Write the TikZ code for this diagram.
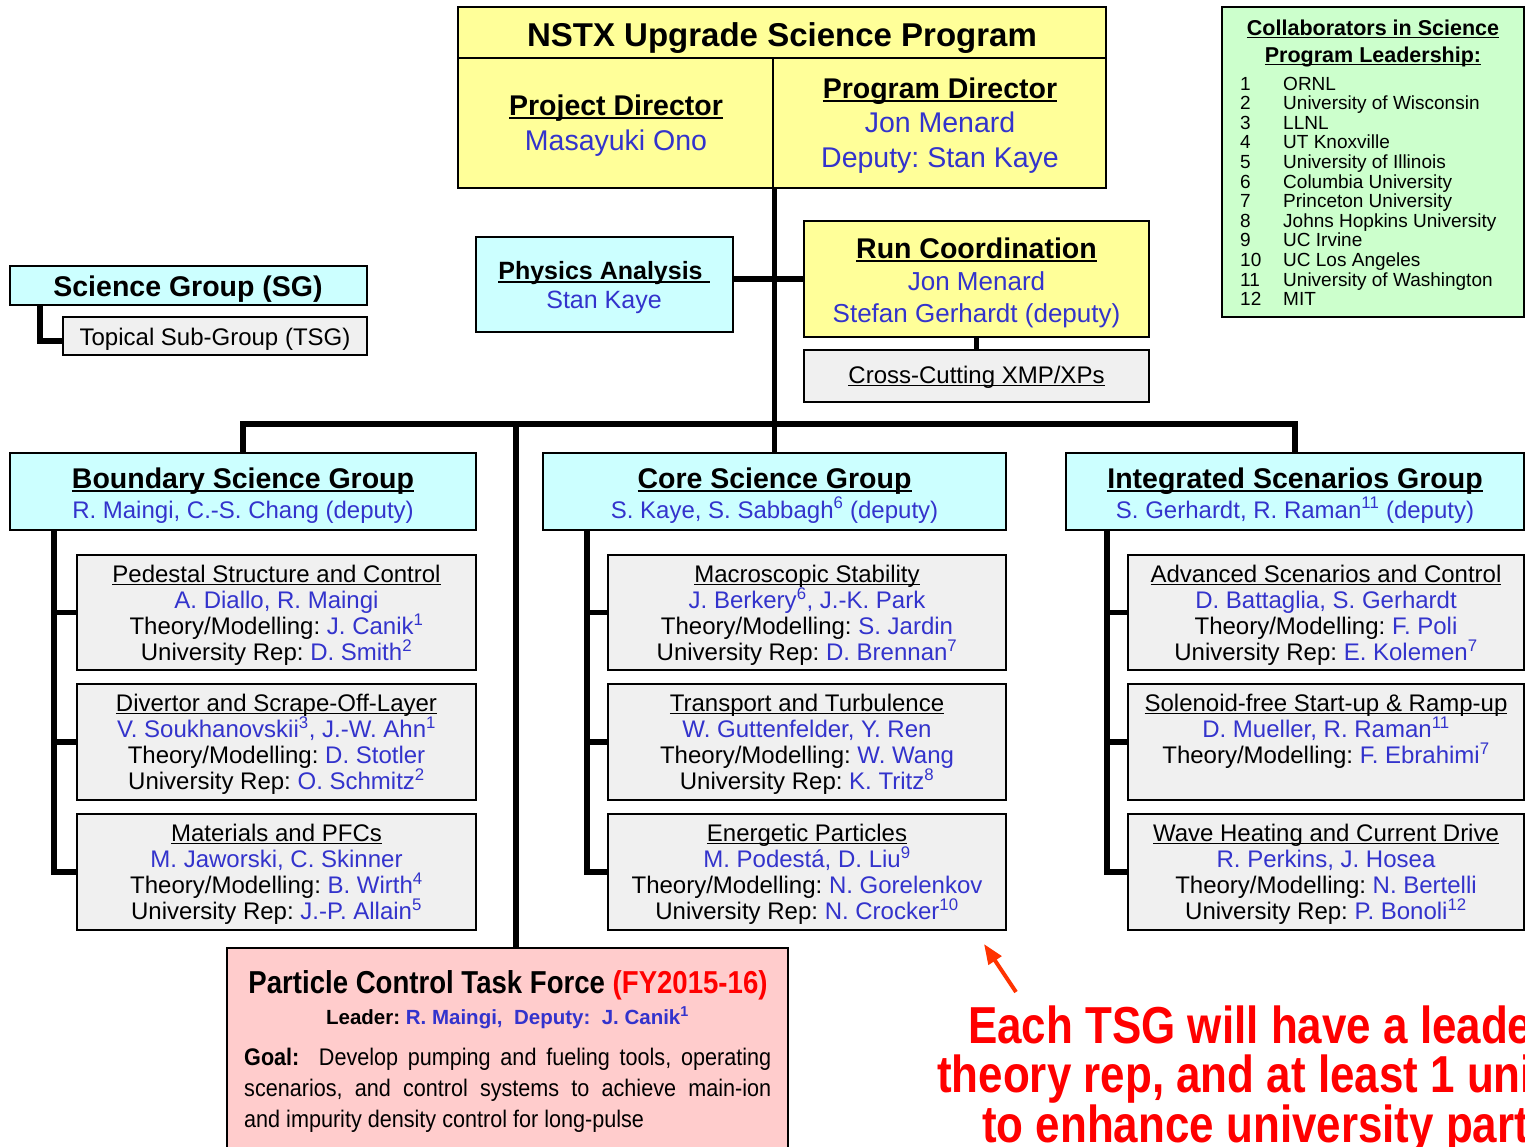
\documentclass[tikz,border=0pt]{standalone}
\usepackage{fontspec}
\setmainfont{Liberation Sans}
\newfontfamily\narrowfont[FakeStretch=0.87]{Liberation Sans}
\newfontfamily\redfont[FakeStretch=0.845]{Liberation Sans}
\newfontfamily\goalfont[FakeStretch=0.9]{Liberation Sans}
\usetikzlibrary{fit,arrows.meta}
\definecolor{nblue}{RGB}{51,51,204}
\definecolor{nyellow}{RGB}{255,255,153}
\definecolor{ncyan}{RGB}{204,255,255}
\definecolor{ngray}{RGB}{240,240,240}
\definecolor{ngreen}{RGB}{204,255,204}
\definecolor{npink}{RGB}{255,204,204}
\definecolor{nred}{RGB}{255,0,0}
\definecolor{narrowc}{RGB}{255,51,0}
\newsavebox\ulbox
\newcommand\myul[1]{\sbox\ulbox{#1}\rlap{\rule[-0.14em]{\wd\ulbox}{0.07em}}\usebox\ulbox}
\newcommand\setfs[2]{\fontsize{#1}{#2}\selectfont}
\newcommand\bl[1]{\textcolor{nblue}{#1}}
\newcommand\sups[1]{\textsuperscript{#1}}
\frenchspacing
\begin{document}
\begin{tikzpicture}[x=1pt,y=-1pt,
  box/.style={draw=black, line width=1.3pt, inner sep=0pt},
  conn/.style={line width=5.5pt, line join=miter},
  txt/.style={anchor=base, align=center, inner sep=0pt},
  grptitle/.style={txt, font={\setfs{28.5}{32}\bfseries}},
  grpsub/.style={txt, font={\setfs{24}{26.2}}},
  subtxt/.style={txt, font={\setfs{24}{26.2}}}]
\useasboundingbox (0,0) rectangle (1525,1146);
\clip (0,0) rectangle (1525,1146);
\fill[white] (0,0) rectangle (1525,1146);

\coordinate (bus) at (0,424);
\coordinate (pcjoin) at (516,424);

% ---------- top box ----------
\node[box, fill=nyellow, fit={(458,7) (1106,58)}] (titleband) {};
\node[box, fill=nyellow, fit={(458,58) (773,188)}] (projcell) {};
\node[box, fill=nyellow, fit={(773,58) (1106,188)}] (progcell) {};
\node[txt, font={\setfs{33}{36}\bfseries}] (title) at (782,46) {NSTX Upgrade Science Program};
% multi-line nodes: the base anchor is the baseline of the last line
\node[txt, font={\setfs{28.5}{35}}] (projtxt) at (616,150) {\textbf{\myul{Project Director}}\\ \bl{Masayuki Ono}};
\node[txt, font={\setfs{28.5}{34.5}}] (progtxt) at (940,167) {\textbf{\myul{Program Director}}\\ \bl{Jon Menard}\\ \bl{Deputy: Stan Kaye}};

% ---------- collaborators ----------
\node[box, fill=ngreen, fit={(1222,7) (1524,317)}] (collab) {};
\node[txt, font={\setfs{21.5}{27}\bfseries}] (collabtitle) at (1373,62) {\myul{Collaborators in Science}\\ \myul{Program Leadership:}};
\node[anchor=base west, align=left, inner sep=0pt, font={\setfs{19}{19.6}}] (collabnum) at (1240,305.6) {1\\2\\3\\4\\5\\6\\7\\8\\9\\10\\11\\12};
\node[anchor=base west, align=left, inner sep=0pt, font={\setfs{19}{19.6}}] (collabname) at (1283,305.6) {ORNL\\University of Wisconsin\\LLNL\\UT Knoxville\\University of Illinois\\Columbia University\\Princeton University\\Johns Hopkins University\\UC Irvine\\UC Los Angeles\\University of Washington\\MIT};

% ---------- legend ----------
\node[box, fill=ncyan, fit={(10,266) (367,305)}] (sg) {};
\node[box, fill=ngray, fit={(63,317) (367,355)}] (tsg) {};
\node[txt, font={\setfs{28.5}{32}\bfseries}] (sgtxt) at (188,296) {Science Group (SG)};
\node[txt, font={\setfs{24}{26}}] (tsgtxt) at (215,345) {Topical Sub-Group (TSG)};
\coordinate (sgl) at (40,305);
\draw[conn] (sgl) |- ([yshift=-5pt]tsg.west);

% ---------- physics analysis / run coordination ----------
\node[box, fill=ncyan, fit={(476,237) (733,332)}] (phys) {};
\node[box, fill=nyellow, fit={(804,221) (1149,337)}] (run) {};
\node[box, fill=ngray, fit={(804,350) (1149,402)}] (cross) {};

% ---------- groups ----------
\node[box, fill=ncyan, fit={(10,453) (476,530)}] (bound) {};
\node[box, fill=ncyan, fit={(543,453) (1006,530)}] (core) {};
\node[box, fill=ncyan, fit={(1066,453) (1524,530)}] (integ) {};

% connectors
\draw[conn] (core.north |- progcell.south west) -- (core.north);
\draw[conn] (phys.east |- run.west) -- (run.west);
\draw[conn] (run.south) -- (cross.north);
\draw[conn] (bound.north) |- (integ.north |- bus) -- (integ.north);

% sub boxes
\node[box, fill=ngray, fit={(77,555) (476,670)}] (b1) {};
\node[box, fill=ngray, fit={(77,684) (476,800)}] (b2) {};
\node[box, fill=ngray, fit={(77,814) (476,930)}] (b3) {};
\node[box, fill=ngray, fit={(608,555) (1006,670)}] (c1) {};
\node[box, fill=ngray, fit={(608,684) (1006,800)}] (c2) {};
\node[box, fill=ngray, fit={(608,814) (1006,930)}] (c3) {};
\node[box, fill=ngray, fit={(1128,555) (1524,670)}] (i1) {};
\node[box, fill=ngray, fit={(1128,684) (1524,800)}] (i2) {};
\node[box, fill=ngray, fit={(1128,814) (1524,930)}] (i3) {};

\coordinate (bt) at (54,530);
\coordinate (ct) at (587,530);
\coordinate (it) at (1107,530);
\draw[conn] (bt) |- (b3.west);
\draw[conn] (bt |- b1.west) -- (b1.west);
\draw[conn] (bt |- b2.west) -- (b2.west);
\draw[conn] (ct) |- (c3.west);
\draw[conn] (ct |- c1.west) -- (c1.west);
\draw[conn] (ct |- c2.west) -- (c2.west);
\draw[conn] (it) |- (i3.west);
\draw[conn] (it |- i1.west) -- (i1.west);
\draw[conn] (it |- i2.west) -- (i2.west);

% particle control
\node[box, fill=npink, fit={(227,948) (788,1152)}] (pctf) {};
\draw[conn] (pcjoin) -- (pcjoin |- pctf.north);

% ---------- texts ----------
\node[txt, font={\setfs{25}{29}}] (phystxt) at (604,308) {\textbf{\myul{Physics Analysis\ }}\\ \bl{Stan Kaye}};
\node[txt, font={\setfs{28.5}{32}\bfseries}] (runtitle) at (976.5,258) {\myul{Run Coordination}};
\node[txt, font={\setfs{26}{32}}] (runnames) at (976.5,322) {\bl{Jon Menard}\\ \bl{Stefan Gerhardt (deputy)}};
\node[txt, font={\setfs{24}{26}}] (crosstxt) at (976.5,383) {\myul{Cross-Cutting XMP/XPs}};

\node[grptitle] (boundtitle) at (243,488) {\myul{Boundary Science Group}};
\node[grpsub] (boundsub) at (243,518) {\bl{R. Maingi, C.-S. Chang (deputy)}};
\node[grptitle] (coretitle) at (774.5,488) {\myul{Core Science Group}};
\node[grpsub] (coresub) at (774.5,518) {\bl{S. Kaye, S. Sabbagh\sups{6} (deputy)}};
\node[grptitle] (integtitle) at (1295,488) {\myul{Integrated Scenarios Group}};
\node[grpsub] (integsub) at (1295,518) {\bl{S. Gerhardt, R. Raman\sups{11} (deputy)}};

\node[subtxt] (b1t) at (276.5,660.6) {\myul{Pedestal Structure and Control}\\ \bl{A. Diallo, R. Maingi}\\ Theory/Modelling: \bl{J. Canik\sups{1}}\\ University Rep: \bl{D. Smith\sups{2}}};
\node[subtxt] (b2t) at (276.5,789.6) {\myul{Divertor and Scrape-Off-Layer}\\ \bl{V. Soukhanovskii\sups{3}, J.-W. Ahn\sups{1}}\\ Theory/Modelling: \bl{D. Stotler}\\ University Rep: \bl{O. Schmitz\sups{2}}};
\node[subtxt] (b3t) at (276.5,919.6) {\myul{Materials and PFCs}\\ \bl{M. Jaworski, C. Skinner}\\ Theory/Modelling: \bl{B. Wirth\sups{4}}\\ University Rep: \bl{J.-P. Allain\sups{5}}};
\node[subtxt] (c1t) at (807,660.6) {\myul{Macroscopic Stability}\\ \bl{J. Berkery\sups{6}, J.-K. Park}\\ Theory/Modelling: \bl{S. Jardin}\\ University Rep: \bl{D. Brennan\sups{7}}};
\node[subtxt] (c2t) at (807,789.6) {\myul{Transport and Turbulence}\\ \bl{W. Guttenfelder, Y. Ren}\\ Theory/Modelling: \bl{W. Wang}\\ University Rep: \bl{K. Tritz\sups{8}}};
\node[subtxt] (c3t) at (807,919.6) {\myul{Energetic Particles}\\ \bl{M. Podestá, D. Liu\sups{9}}\\ Theory/Modelling: \bl{N. Gorelenkov}\\ University Rep: \bl{N. Crocker\sups{10}}};
\node[subtxt] (i1t) at (1326,660.6) {\myul{Advanced Scenarios and Control}\\ \bl{D. Battaglia, S. Gerhardt}\\ Theory/Modelling: \bl{F. Poli}\\ University Rep: \bl{E. Kolemen\sups{7}}};
\node[subtxt] (i2t) at (1326,763.4) {\myul{Solenoid-free Start-up \& Ramp-up}\\ \bl{D. Mueller, R. Raman\sups{11}}\\ Theory/Modelling: \bl{F. Ebrahimi\sups{7}}};
\node[subtxt] (i3t) at (1326,919.6) {\myul{Wave Heating and Current Drive}\\ \bl{R. Perkins, J. Hosea}\\ Theory/Modelling: \bl{N. Bertelli}\\ University Rep: \bl{P. Bonoli\sups{12}}};

\node[txt, font={\narrowfont\setfs{31.7}{34}\bfseries}] (pctitle) at (508,993) {Particle Control Task Force \textcolor{nred}{(FY2015-16)}};
\node[txt, font={\setfs{20.5}{24}\bfseries}] (pcleader) at (507.5,1024) {Leader: \bl{R. Maingi,\ \ Deputy:\ \ J. Canik\sups{1}}};
\node[anchor=base west, align=left, inner sep=0pt, font={\goalfont\setfs{24}{31}}] (pcgoal) at (244,1127) {\makebox[527pt][s]{\textbf{Goal:}\ \ Develop pumping and fueling tools, operating}\\ \makebox[527pt][s]{scenarios, and control systems to achieve main-ion}\\ and impurity density control for long-pulse};

% arrow and red note
\coordinate (atail) at (1016,992);
\coordinate (atip) at (984,944);
\draw[-{Triangle[length=20pt,width=15pt]}, line width=4pt, narrowc] (atail) -- (atip);
\node[anchor=base west, inner sep=0pt, text=nred, font={\redfont\setfs{52}{52}\bfseries}] (note1) at (968,1043) {Each TSG will have a leade};
\node[anchor=base west, inner sep=0pt, text=nred, font={\redfont\setfs{52}{52}\bfseries}] (note2) at (937,1092) {theory rep, and at least 1 uni};
\node[anchor=base west, inner sep=0pt, text=nred, font={\redfont\setfs{52}{52}\bfseries}] (note3) at (982,1142) {to enhance university part};
\end{tikzpicture}
\end{document}
